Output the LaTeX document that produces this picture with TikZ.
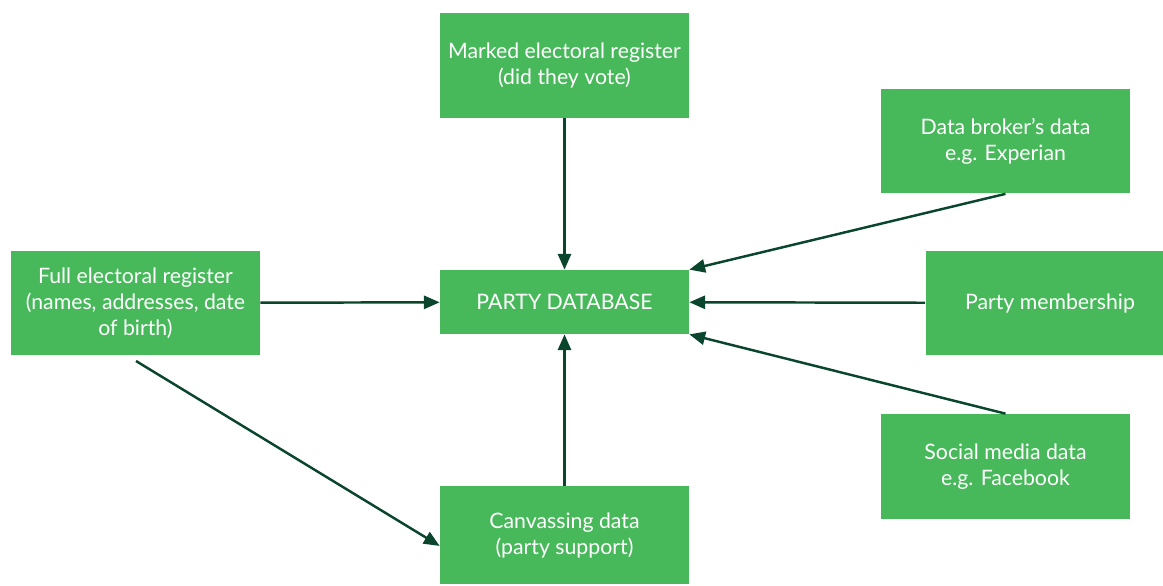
\documentclass[tikz,border=0pt]{standalone}
\usepackage{fontspec}
\setmainfont{Lato}
\usepackage{tikz}
\usetikzlibrary{arrows.meta}

\definecolor{boxgreen}{RGB}{72,185,91}
\definecolor{linkgreen}{RGB}{10,70,45}

\begin{document}
\begin{tikzpicture}[
        x=0.02cm,y=-0.02cm,
        source/.style={fill=boxgreen,text=white,align=center,inner sep=0pt,minimum width=4.98cm,minimum height=2.1cm,font=\fontsize{12.1}{14.8}\selectfont},
        target/.style={source,minimum height=1.28cm},
        feed/.style={draw=linkgreen,line width=1.4pt,-{Triangle[length=9pt,width=7.5pt]}}
    ]

    \clip (0,0) rectangle (1163,585);
    \fill[white] (0,0) rectangle (1163,585);

    \node[target] (db) at (564.5,302) {PARTY DATABASE};
    \node[source] (marked) at (564.5,65.5) {Marked electoral register\\(did they vote)};
    \node[source] (broker) at (1005.5,141) {Data broker’s data\\e.g. Experian};
    \node[source] (member) at (1050,303) {Party membership};
    \node[source] (social) at (1005.5,466.5) {Social media data\\e.g. Facebook};
    \node[source] (full) at (135.5,303) {Full electoral register\\(names, addresses, date\\of birth)};
    \node[source,minimum height=1.96cm] (canvass) at (564.5,535) {Canvassing data\\(party support)};

    \coordinate (fullout) at (136,361);

    \draw[feed] (marked) -- (db);
    \draw[feed] (broker.south) -- (db.north east);
    \draw[feed] (member) -- (db);
    \draw[feed] (social.north) -- (db.south east);
    \draw[feed] (canvass) -- (db);
    \draw[feed] (full) -- (db);
    \draw[feed] (fullout) -- (canvass.185);

    \end{tikzpicture}
\end{document}
